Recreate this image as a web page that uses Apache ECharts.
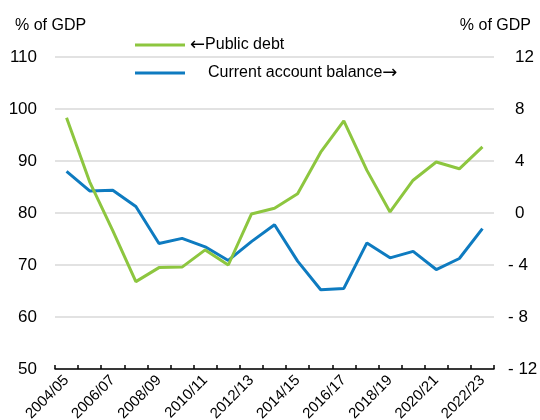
<!DOCTYPE html>
<html>
<head>
<meta charset="utf-8">
<script src="https://cdn.jsdelivr.net/npm/echarts@6/dist/echarts.min.js"></script>
<style>
  html, body { margin: 0; padding: 0; background: #fff; }
  #chart { width: 540px; height: 420px; }
</style>
</head>
<body>
<div id="chart"></div>
<script>
// Fiscal years on the x axis
const categories = ['2004/05', '2005/06', '2006/07', '2007/08', '2008/09', '2009/10', '2010/11',
  '2011/12', '2012/13', '2013/14', '2014/15', '2015/16', '2016/17', '2017/18', '2018/19',
  '2019/20', '2020/21', '2021/22', '2022/23'];

// % of GDP, left axis
const publicDebt = [98.3, 86.0, 76.6, 66.8, 69.5, 69.6, 72.9, 70.0, 79.8, 80.9,
  83.7, 91.7, 97.7, 88.2, 80.2, 86.3, 89.8, 88.5, 92.7];

// % of GDP, right axis
const currentAccount = [3.2, 1.7, 1.75, 0.5, -2.35, -1.95, -2.6, -3.65, -2.2, -0.9,
  -3.7, -5.9, -5.8, -2.3, -3.45, -2.95, -4.35, -3.5, -1.2];

const seriesNames = ['←Public debt', 'Current account balance→'];

const chart = echarts.init(document.getElementById('chart'));
const font = 'Liberation Sans, Arial, sans-serif';

// arrows get their own font, Liberation has only a tiny one
function legendLabel(name) {
  if (name === seriesNames[0]) return '{arr|←}Public debt';
  return '{pad| }Current account balance{arr|→}';
}

const option = {
  animation: false,
  textStyle: { fontFamily: font },
  title: [
    { text: '% of GDP', left: 15, top: 18, padding: 0, textStyle: { fontSize: 16, fontWeight: 'normal', color: '#000' } },
    { text: '% of GDP', right: 9, top: 18, padding: 0, textStyle: { fontSize: 16, fontWeight: 'normal', color: '#000' } }
  ],
  legend: {
    orient: 'vertical',
    left: 135,
    top: 36,
    padding: 0,
    itemWidth: 50,
    itemHeight: 3,
    itemGap: 10,
    icon: 'rect',
    textStyle: {
      fontSize: 16,
      color: '#000',
      rich: {
        pad: { width: 18, fontSize: 16 },
        arr: { fontFamily: 'DejaVu Sans', fontSize: 18, color: '#000' }
      }
    },
    formatter: legendLabel,
    data: seriesNames
  },
  // fixed plot box, do not let labels shrink it
  grid: { left: 55, right: 46, top: 57, bottom: 51, containLabel: false, outerBoundsMode: 'none' },
  xAxis: {
    type: 'category',
    data: categories,
    boundaryGap: true,
    axisLine: { onZero: false, lineStyle: { color: '#000', width: 1.5 } },
    axisTick: { show: true, interval: 0, length: 4, inside: true, lineStyle: { color: '#000', width: 1.5 } },
    axisLabel: { interval: 1, rotate: 45, fontSize: 15, color: '#000', margin: 9 }
  },
  yAxis: [
    {
      type: 'value', min: 50, max: 110, interval: 10,
      axisLine: { show: false }, axisTick: { show: false },
      splitLine: { lineStyle: { color: '#d9d9d9', width: 1.5 } },
      axisLabel: { fontSize: 17, color: '#000', margin: 18 }
    },
    {
      type: 'value', min: -12, max: 12, interval: 4,
      axisLine: { show: false }, axisTick: { show: false },
      splitLine: { show: false },
      axisLabel: {
        fontSize: 17, color: '#000', margin: 14,
        formatter: v => v < 0 ? '{n|- ' + (-v) + '}' : '{p|' + v + '}',
        rich: {
          n: { fontSize: 17, color: '#000' },
          p: { fontSize: 17, color: '#000', padding: [0, 0, 0, 7] }
        }
      }
    }
  ],
  series: [
    {
      name: seriesNames[0],
      type: 'line',
      yAxisIndex: 0,
      data: publicDebt,
      symbol: 'none',
      color: '#8dc63f',
      lineStyle: { width: 3, color: '#8dc63f' },
      z: 3
    },
    {
      name: seriesNames[1],
      type: 'line',
      yAxisIndex: 1,
      data: currentAccount,
      symbol: 'none',
      color: '#0e7bc0',
      lineStyle: { width: 3, color: '#0e7bc0' },
      z: 2
    }
  ]
};
chart.setOption(option);
</script>
</body>
</html>
